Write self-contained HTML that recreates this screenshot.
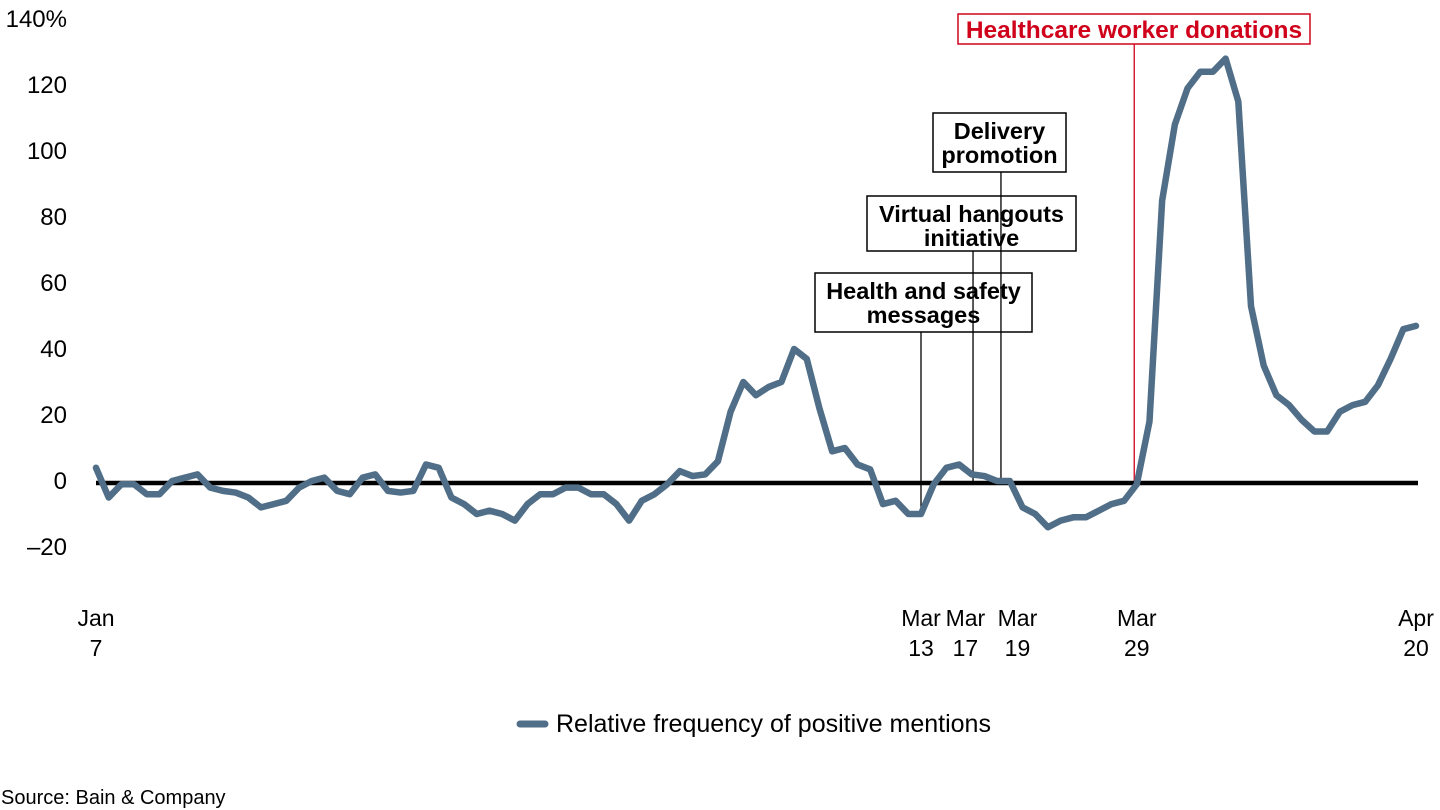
<!DOCTYPE html>
<html><head><meta charset="utf-8"><style>
body{margin:0;background:#fff;width:1440px;height:810px;overflow:hidden;font-family:"Liberation Sans",Arial,sans-serif}
svg{display:block}
</style></head><body>
<svg id="chart" width="1440" height="810" font-family="Liberation Sans, Arial, sans-serif"></svg>
<script>
const yTicks=[-20,0,20,40,60,80,100,120,140];
const values=[4,-5,-1,-1,-4,-4,0,1,2,-2,-3,-3.5,-5,-8,-7,-6,-2,0,1,-3,-4,1,2,-3,-3.5,-3,5,4,-5,-7,-10,-9,-10,-12,-7,-4,-4,-2,-2,-4,-4,-7,-12,-6,-4,-1,3,1.5,2,6,21,30,26,28.5,30,40,37,22,9,10,5,3.5,-7,-6,-10,-10,-1,4,5,2,1.5,0,0,-8,-10,-14,-12,-11,-11,-9,-7,-6,-1,18,85,108,119,124,124,128,115,53,35,26,23,18.5,15,15,21,23,24,29,37,46,47];
const xLabels=[["Jan","7",0],["Mar","13",65],["Mar","17",68.5],["Mar","19",72.6],["Mar","29",82],["Apr","20",104]];
const events=[
 {t:"Health and safety|messages",day:65,box:[815,273,217,59],color:"#000"},
 {t:"Virtual hangouts|initiative",day:69.1,box:[867,196,209,55],color:"#000"},
 {t:"Delivery|promotion",day:71.3,box:[933,113,133,59],color:"#000"},
 {t:"Healthcare worker donations",day:81.8,box:[958,14,352,30],color:"#d0021b"}];
const svg=document.getElementById('chart');const NS='http://www.w3.org/2000/svg';
const X=d=>96+d*(1320/104);
const Y=v=>481-v*3.3;
function mk(tag,attrs,parent){const e=document.createElementNS(NS,tag);for(const k in attrs)e.setAttribute(k,attrs[k]);(parent||svg).appendChild(e);return e;}
yTicks.forEach(v=>{const t=mk('text',{x:67,y:Y(v)+8,'text-anchor':'end','font-size':24,fill:'#000'});


t.textContent=(v<0?'\u2013'+(-v):v)+(v===140?'%':'');});
xLabels.forEach(l=>{const t=mk('text',{x:X(l[2]),y:626,'text-anchor':'middle','font-size':23});


mk('tspan',{x:X(l[2]),dy:0},t).textContent=l[0];mk('tspan',{x:X(l[2]),dy:30},t).textContent=l[1];});
events.forEach(ev=>{const g=mk('g',{});


const [bx,by,bw,bh]=ev.box;const xx=X(ev.day);
const idx=Math.round(ev.day);const vy=Y(values[Math.min(idx,values.length-1)]);
mk('line',{x1:xx,x2:xx,y1:by+bh,y2:Math.max(vy,481),stroke:ev.color,'stroke-width':1.3},g);
mk('rect',{x:bx,y:by,width:bw,height:bh,fill:'#fff',stroke:ev.color,'stroke-width':1.5},g);
const lines=ev.t.split('|');lines.forEach((s,i)=>{const t=mk('text',{x:bx+bw/2,y:by+(lines.length===1?24:26+i*24),'text-anchor':'middle','font-size':lines.length===1?24.5:23.5,'font-weight':'bold',fill:ev.color},g);t.textContent=s;});});
const z=mk('line',{x1:96,x2:1418,y1:483,y2:483,stroke:'#000','stroke-width':4.5});


const p=mk('polyline',{points:values.map((v,i)=>X(i)+','+Y(v)).join(' '),fill:'none',stroke:'#506e87','stroke-width':6.5,'stroke-linejoin':'round','stroke-linecap':'round'});


const lg=mk('g',{});


mk('line',{x1:520,x2:545,y1:724,y2:724,stroke:'#506e87','stroke-width':7,'stroke-linecap':'round'},lg);
mk('text',{x:556,y:732,'font-size':25},lg).textContent='Relative frequency of positive mentions';
const src=mk('text',{x:1,y:804,'font-size':20});


src.textContent='Source: Bain & Company';
</script>
</body></html>
